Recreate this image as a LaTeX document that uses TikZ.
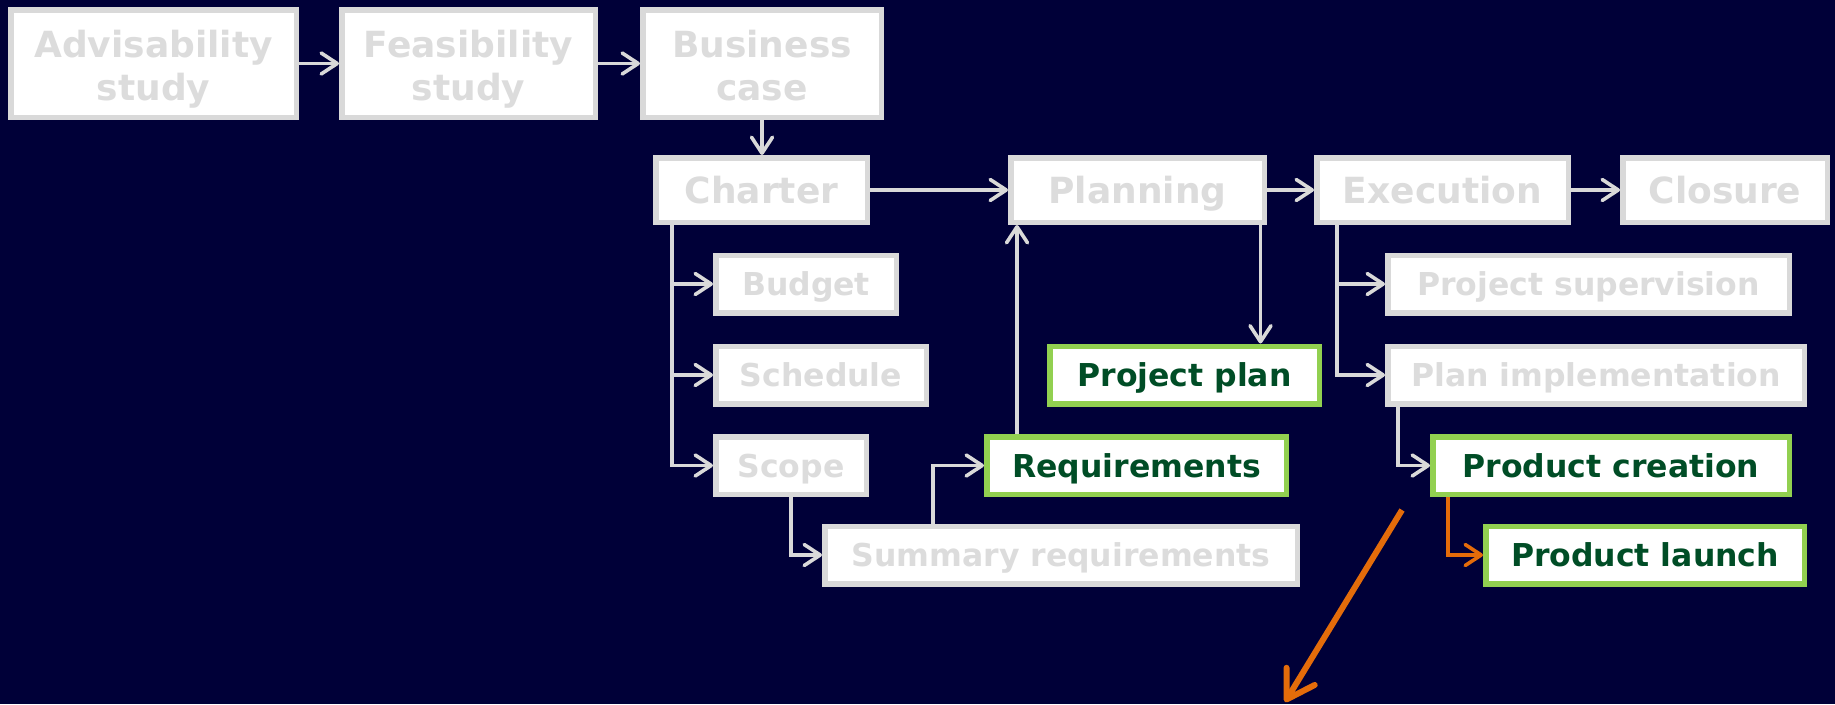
\documentclass[tikz,border=0pt]{standalone}
\usepackage{fontspec}
\setmainfont{DejaVu Sans}
\usetikzlibrary{arrows.meta}
\definecolor{bgnavy}{RGB}{0,0,56}
\definecolor{boxgrey}{RGB}{217,217,217}
\definecolor{txtgrey}{RGB}{220,220,220}
\definecolor{hlgreen}{RGB}{146,208,80}
\definecolor{dkgreen}{RGB}{0,77,38}
\definecolor{arrorange}{RGB}{228,108,10}
\newcommand\mytwolines[2]{\vbox{\baselineskip=43pt\hbox to 0pt{\hss#1\hss}\hbox to 0pt{\hss#2\hss}}}
\tikzset{
  gbox/.style={draw=boxgrey, fill=white, line width=5.5pt, inner sep=0pt, text=txtgrey, minimum height=57.5pt},
  hbox/.style={draw=hlgreen, fill=white, line width=5.5pt, inner sep=0pt, text=dkgreen, minimum height=57.5pt},
  bigtxt/.style={font=\bfseries\fontsize{36}{43}\selectfont, text height=26pt, text depth=0pt, minimum height=64.5pt},
  twoline/.style={font=\bfseries\fontsize{36}{43}\selectfont, text height=73pt, text depth=0pt, minimum height=107.5pt},
  medtxt/.style={font=\bfseries\fontsize{31.5}{38}\selectfont, text height=23pt, text depth=0pt},
  conn/.style={draw=boxgrey, line width=3.6pt, -{Straight Barb[length=16pt,width=21pt,round]}},
  orconn/.style={conn, draw=arrorange},
  bigarrow/.style={draw=arrorange, line width=6pt, -{Straight Barb[length=27pt,width=33pt,round]}},
}
\begin{document}
\begin{tikzpicture}[x=1pt,y=-1pt]
\fill[bgnavy] (0,0) rectangle (1835,704);
\useasboundingbox (0,0) rectangle (1835,704);
% top row
\node[gbox,twoline,minimum width=285.5pt] (adv) at (153.5,63.5) {\mytwolines{Advisability}{study}};
\node[gbox,twoline,minimum width=253.5pt] (feas) at (468.5,63.5) {\mytwolines{Feasibility}{study}};
\node[gbox,twoline,minimum width=238.5pt] (bc) at (762,63.5) {\mytwolines{Business}{case}};
% main row
\node[gbox,bigtxt,minimum width=211.5pt] (charter) at (761.5,190) {Charter};
\node[gbox,bigtxt,minimum width=253.5pt] (planning) at (1137.5,190) {Planning};
\node[gbox,bigtxt,minimum width=251.5pt] (execution) at (1442.5,190) {Execution};
\node[gbox,bigtxt,minimum width=204.5pt] (closure) at (1725,190) {Closure};
% sub boxes
\node[gbox,medtxt,minimum width=180.5pt] (budget) at (806,284) {Budget};
\node[gbox,medtxt,minimum width=210.5pt] (schedule) at (821,375) {Schedule};
\node[gbox,medtxt,minimum width=150.5pt] (scope) at (791,465.5) {Scope};
\node[gbox,medtxt,minimum width=472.5pt] (summ) at (1061,555) {Summary requirements};
\node[hbox,medtxt,minimum width=299.5pt] (req) at (1136.5,465.5) {Requirements};
\node[hbox,medtxt,minimum width=269.5pt] (pplan) at (1184.5,375) {Project plan};
\node[gbox,medtxt,minimum width=401.5pt] (psup) at (1588.5,284) {Project supervision};
\node[gbox,medtxt,minimum width=416.5pt] (pimpl) at (1596,375) {Plan implementation};
\node[hbox,medtxt,minimum width=356.5pt] (pcreate) at (1611,465.5) {Product creation};
\node[hbox,medtxt,minimum width=318.5pt] (plaunch) at (1645,555) {Product launch};
% helper coordinates
\coordinate (ct) at (672,0);
\coordinate (sr) at (933,0);
\coordinate (rp) at (1017,0);
\coordinate (pp) at (1260.5,0);
\coordinate (et) at (1337,0);
\coordinate (ic) at (1398,0);
\coordinate (cl) at (1448,0);
\coordinate (os) at (1402,510);
\coordinate (oe) at (1285,702);
% connectors
\draw[conn] (adv) -- (feas);
\draw[conn] (feas) -- (bc);
\draw[conn] (bc.south) -- (bc.south |- charter.north);
\draw[conn] (charter) -- (planning);
\draw[conn] (planning) -- (execution);
\draw[conn] (execution) -- (closure);
\draw[conn] (charter.south -| ct) |- (budget.west);
\draw[conn] (charter.south -| ct) |- (schedule.west);
\draw[conn] (charter.south -| ct) |- (scope.west);
\draw[conn] (scope.south) |- (summ.west);
\draw[conn] (summ.north -| sr) |- (req.west);
\draw[conn] (req.north -| rp) -- (planning.south -| rp);
\draw[conn] (planning.south -| pp) -- (pplan.north -| pp);
\draw[conn] (execution.south -| et) |- (psup.west);
\draw[conn] (execution.south -| et) |- (pimpl.west);
\draw[conn] (pimpl.south -| ic) |- (pcreate.west);
\draw[orconn] (pcreate.south -| cl) |- (plaunch.west);
\draw[bigarrow] (os) -- (oe);
\end{tikzpicture}
\end{document}
